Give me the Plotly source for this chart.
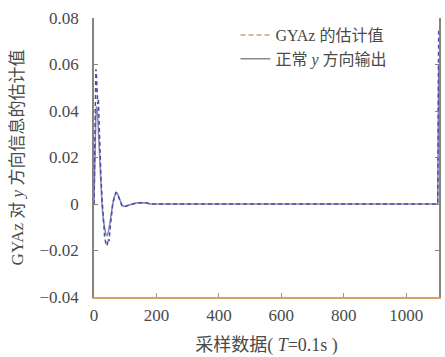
import plotly.graph_objects as go

# ---- data ----
sample_actual = [0, 2, 4, 6, 8, 10, 12, 15, 18, 22, 26, 30, 34, 38, 42, 46, 50, 55, 60, 65,
                 70, 75, 80, 85, 90, 95, 100, 110, 120, 130, 140, 150, 160, 170, 180, 200, 1101, 1104]
value_actual = [0.0, 0.015, 0.03, 0.038, 0.042, 0.041, 0.037, 0.028, 0.018, 0.008, -0.001, -0.007,
                -0.011, -0.013, -0.0135, -0.012, -0.009, -0.004, 0.0, 0.003, 0.0045, 0.0045, 0.003,
                0.001, -0.0005, -0.001, -0.001, -0.0005, 0.0, 0.0003, 0.0005, 0.0005, 0.0006, 0.0004,
                0.0, 0.0, 0.0, 0.06]

sample_est = [0, 2, 4, 6, 8, 10, 12, 14, 16, 19, 22, 26, 30, 34, 38, 42, 45, 48, 52, 56, 60, 65,
              70, 75, 80, 85, 90, 95, 100, 110, 120, 130, 140, 150, 160, 170, 180, 200, 1101, 1104]
value_est = [0.0, 0.03, 0.05, 0.058, 0.055, 0.05, 0.043, 0.045, 0.035, 0.025, 0.012, 0.002, -0.008,
             -0.014, -0.017, -0.018, -0.015, -0.016, -0.01, -0.004, 0.0, 0.003, 0.005, 0.0045,
             0.0025, 0.0005, -0.001, -0.0012, -0.001, -0.0004, 0.0001, 0.0004, 0.0006, 0.0005,
             0.0007, 0.0004, 0.0, 0.0, 0.0, 0.075]

x_ticks = [0, 200, 400, 600, 800, 1000]
y_ticks = [0.08, 0.06, 0.04, 0.02, 0, -0.02, -0.04]
y_tick_text = ["0.08", "0.06", "0.04", "0.02", "0", "\u22120.02", "\u22120.04"]

legend_est = "GYAz 的估计值"
legend_actual = "正常 <i>y</i> 方向输出"
x_title = "采样数据( <i>T</i>=0.1s )"
y_title = "GYAz 对 <i>y</i> 方向信息的估计值"

FONT = "Liberation Serif, Noto Sans CJK SC, serif"

fig = go.Figure()
fig.add_trace(go.Scatter(x=sample_actual, y=value_actual, mode="lines",
                         line=dict(color="#8686b8", width=1.5), showlegend=False))
fig.add_trace(go.Scatter(x=sample_est, y=value_est, mode="lines",
                         line=dict(color="#4c4ca4", width=1.5, dash="4px,3px"), showlegend=False))
# legend entries (styled as in the reference legend)
fig.add_trace(go.Scatter(x=[None], y=[None], mode="lines", name=legend_est,
                         line=dict(color="#c9a267", width=1.5, dash="5px,3px")))
fig.add_trace(go.Scatter(x=[None], y=[None], mode="lines", name=legend_actual,
                         line=dict(color="#8a8a8a", width=1.5)))

fig.update_layout(
    width=445, height=357,
    margin=dict(l=94, r=4, t=18, b=60),
    paper_bgcolor="white", plot_bgcolor="white",
    font=dict(family=FONT, size=16, color="#4a4a4a"),
    legend=dict(x=0.41, y=1.0, xanchor="left", yanchor="top", bgcolor="rgba(0,0,0,0)",
                font=dict(size=16, color="#4a4a4a"), tracegroupgap=0),
    xaxis=dict(range=[0, 1105], tickvals=x_ticks, ticks="inside", ticklen=4,
               showgrid=False, zeroline=False, showline=True, linecolor="#d0a468",
               linewidth=1.5, tickcolor="#b09070", tickfont=dict(size=17),
               ticklabelstandoff=2,
               title=dict(text=x_title, font=dict(size=18), standoff=14)),
    yaxis=dict(range=[-0.04, 0.08], tickvals=y_ticks, ticktext=y_tick_text, ticks="inside",
               ticklen=4, showgrid=False, zeroline=False, showline=True, mirror="ticks",
               linecolor="#8c827c", linewidth=1.5, tickcolor="#8c827c", tickfont=dict(size=17),
               ticklabelstandoff=10,
               title=dict(text=y_title, font=dict(size=17), standoff=12)),
)

fig.write_html("out.html")
